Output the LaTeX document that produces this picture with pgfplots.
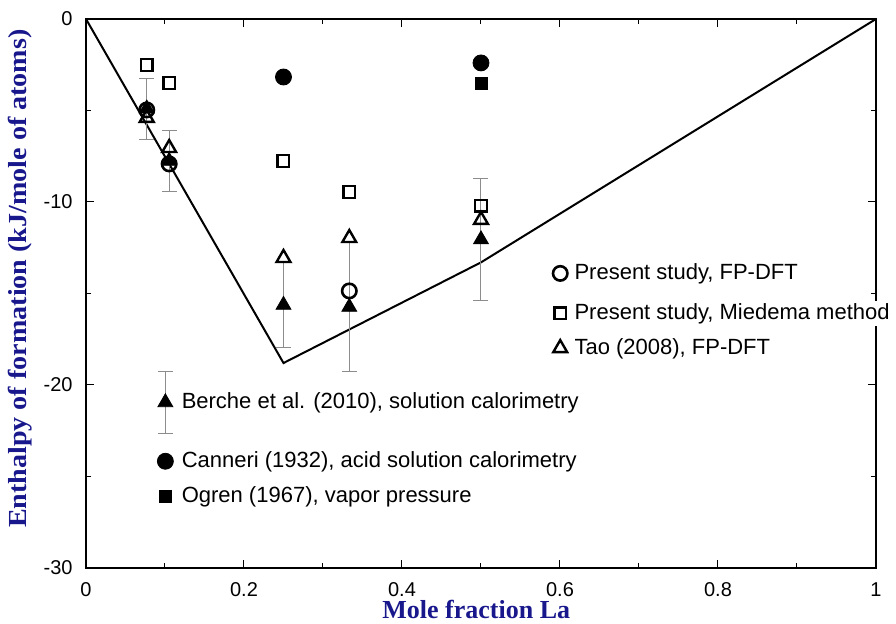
\documentclass[border=0pt]{standalone}
\usepackage{fontspec}
\setmainfont{Liberation Sans}
\newfontfamily\timesfont{Liberation Serif}
\usepackage{pgfplots}
\pgfplotsset{compat=1.18}
\definecolor{labelblue}{RGB}{24,24,140}
\definecolor{errgray}{RGB}{140,140,140}

\pgfplotsset{
  chartbox/.style={
    scale only axis, width=395pt, height=274.5pt,
    xmin=0, xmax=1, ymin=-30, ymax=0,
  },
  keystyle/.style={
    legend cell align=left,
    legend style={draw=none, fill=none, inner sep=0pt, outer sep=0pt,
      row sep=5pt, anchor=north west,
      nodes={inner sep=1.5pt, fill=white, text=black,
        font=\fontsize{11}{12}\selectfont}},
    legend image code/.code={\path (-5pt,0pt) (#1,0pt);
      \draw[##1] plot coordinates {(0pt,0pt)};},
  },
  firstkey/.style={
    legend image code/.code={\path (-5pt,-8pt) (5pt,0pt);
      \draw[##1] plot coordinates {(0pt,0pt)};},
  },
}

\begin{document}
\begin{tikzpicture}
\begin{axis}[
    chartbox, keystyle=5pt,
    axis line style={line width=0.7pt},
    tick align=inside,
    major tick length=4pt, minor tick length=2.5pt,
    tick style={black, line width=0.5pt},
    xtick={0,0.2,0.4,0.6,0.8,1},
    xticklabels={0,0.2,0.4,0.6,0.8,1},
    ytick={-30,-20,-10,0},
    yticklabels={-30,-20,-10,0},
    minor x tick num=1, minor y tick num=1,
    xticklabel style={font=\fontsize{10}{12}\selectfont, inner sep=0pt, yshift=-7pt},
    yticklabel style={font=\fontsize{10}{12}\selectfont, inner sep=0pt, xshift=-6.5pt},
    xlabel={\timesfont\bfseries Mole fraction La},
    ylabel={\timesfont\bfseries\scalebox{1.08}[1]{Enthalpy of formation (kJ/mole of atoms)}},
    label style={text=labelblue, font=\fontsize{13}{15}\selectfont, inner sep=0pt},
    xlabel style={at={(axis description cs:0.494,-0.0929)}, anchor=base},
    ylabel style={at={(axis description cs:-0.0747,0.527)}, anchor=base},
    legend style={at={(axis cs:0.586,-13.22)}},
    clip=false,
]
% Miedema-type hull line
\addplot[black, line width=1pt, mark=none, forget plot]
  coordinates {(0,0)(0.25,-18.8)(0.5,-13.3)(1,0)};

% Berche et al. (2010)
\addplot[only marks, mark=triangle*, mark size=4.3pt, black, forget plot,
  error bars/.cd, y dir=both, y explicit,
  error bar style={errgray, line width=0.5pt},
  error mark options={rotate=90, errgray, mark size=3.75pt, line width=0.5pt}]
  coordinates {
    (0.0769,-4.90) +- (0,1.67)
    (0.1053,-7.76) +- (0,1.69)
    (0.25,-15.63) +- (0,2.30)
    (0.3333,-15.74) +- (0,3.50)
    (0.5,-12.05) +- (0,3.36)
  };

% Canneri (1932)
\addplot[only marks, mark=*, mark size=4pt, black, forget plot]
  coordinates {(0.25,-3.17)(0.5,-2.40)};

% Ogren (1967)
\addplot[only marks, mark=square*, mark size=3pt, black, forget plot]
  coordinates {(0.5,-3.50)};

% Present study, FP-DFT
\addplot[only marks, mark=o, mark size=3.6pt, black, line width=1.3pt, firstkey]
  coordinates {(0.0769,-4.97)(0.1053,-7.92)(0.3333,-14.86)};
\addlegendentry{Present study, FP-DFT}

% Present study, Miedema
\addplot[only marks, mark=square, mark size=2.9pt, black, line width=1.2pt]
  coordinates {(0.0769,-2.51)(0.1053,-3.50)(0.25,-7.76)(0.3333,-9.45)(0.5,-10.2)};
\addlegendentry{Present study, Miedema method}

% Tao (2008)
\addplot[only marks, mark=triangle, mark size=4pt, black, line width=1.2pt]
  coordinates {(0.0769,-5.40)(0.1053,-7.05)(0.25,-13.06)(0.3333,-11.97)(0.5,-10.98)};
\addlegendentry{Tao (2008), FP-DFT}
\end{axis}

\begin{axis}[
    chartbox, keystyle=6.5pt, hide axis,
    legend style={at={(axis cs:0.0873,-19.23)}},
]
\addlegendimage{only marks, mark=triangle*, mark size=4.3pt, black,
  legend image code/.code={
    \path (-5pt,-18pt) (6.5pt,0pt);
    \draw[errgray, line width=0.5pt] (0pt,-15.5pt) -- (0pt,15.5pt)
      (-3.75pt,-15.5pt) -- (3.75pt,-15.5pt) (-3.75pt,15.5pt) -- (3.75pt,15.5pt);
    \draw[##1] plot coordinates {(0pt,0pt)};}}
\addlegendentry{Berche et al. (2010), solution calorimetry}
\addlegendimage{only marks, mark=*, mark size=4pt, black}
\addlegendentry{Canneri (1932), acid solution calorimetry}
\addlegendimage{only marks, mark=square*, mark size=3pt, black}
\addlegendentry{Ogren (1967), vapor pressure}
\end{axis}

\pgfresetboundingbox
\path ([shift={(-43pt,-28pt)}]current axis.south west)
  rectangle ([shift={(10pt,9.5pt)}]current axis.north east);
\end{tikzpicture}
\end{document}
